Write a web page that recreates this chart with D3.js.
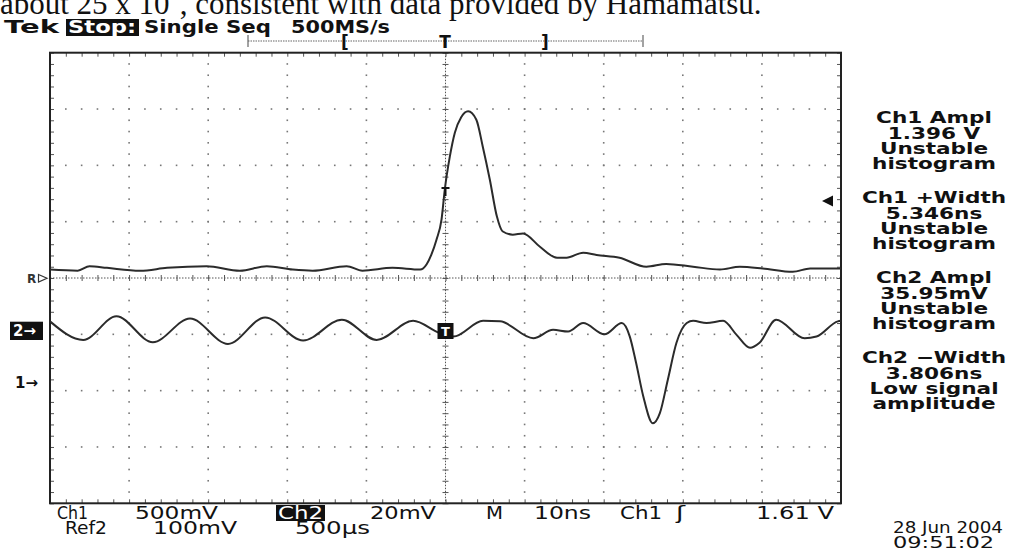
<!DOCTYPE html>
<html>
<head>
<meta charset="utf-8">
<script src="https://cdn.jsdelivr.net/npm/d3@7"></script>
<style>
body{margin:0;background:#fff;}
svg{display:block;}
</style>
</head>
<body>
<svg></svg>
<script>
// scope screen: time in ns (10ns/div), level in divisions from screen centre
var timeDivs = d3.range(-50, 51, 10);
var levelDivs = d3.range(-4, 5, 1);

// Ch1 - the big positive pulse
var ch1Time = [-50,-46.5,-45,-42.8,-38.6,-35.2,-30.2,-26,-22.6,-19.3,-16.8,-12.5,-10.5,-6.7,-3.2,-2.4,-1.8,-1.14,-0.5,-0.09,0.54,1.18,2.0,2.86,3.9,4.7,5.6,6.5,7.2,8.5,9.8,11.9,14.1,15.3,17.4,19.1,22.0,25.4,27.9,31.3,34.7,37.2,40.1,43.9,46.1,50];
var ch1Level = [0.15,0.13,0.21,0.18,0.13,0.18,0.21,0.13,0.21,0.15,0.13,0.21,0.13,0.18,0.15,0.24,0.41,0.68,1.04,1.57,2.15,2.58,2.86,2.96,2.81,2.34,1.75,1.09,0.83,0.77,0.79,0.56,0.36,0.36,0.45,0.41,0.36,0.20,0.25,0.20,0.15,0.20,0.17,0.11,0.17,0.17];

// Ch2 - the ringing trace with the negative dip
var ch2Time = [-50,-45.8,-41.6,-37,-32.3,-27.5,-22.8,-18,-13.1,-8.7,-4.1,-0.7,1.0,4.75,6.9,11.1,13.6,15.5,17.4,20.1,22.3,23.3,24.1,25.0,26.2,27.1,28.1,29.2,30.5,31.3,33.0,35.1,36.8,38.5,39.7,41.8,45.4,46.9,49.6,50];
var ch2Level = [-0.77,-1.10,-0.68,-1.14,-0.72,-1.17,-0.70,-1.11,-0.74,-1.10,-0.76,-0.98,-1.04,-0.76,-0.77,-1.07,-0.92,-0.95,-0.80,-1.00,-0.80,-1.04,-1.51,-2.10,-2.58,-2.40,-1.81,-1.15,-0.80,-0.76,-0.80,-0.76,-1.01,-1.24,-1.15,-0.74,-1.07,-1.04,-0.77,-0.76];

var measTitles = ["Ch1 Ampl","Ch1 +Width","Ch2 Ampl","Ch2 \u2212Width"];
var measValues = ["1.396 V","5.346ns","35.95mV","3.806ns"];
var measNotes = [["Unstable","histogram"],["Unstable","histogram"],["Unstable","histogram"],["Low signal","amplitude"]];

var readoutTop = ["Ch1","500mV","Ch2","20mV","M","10ns","Ch1","\u0283","1.61 V"];
var readoutBottom = ["Ref2","100mV","500\u00b5s"];
var dateLines = ["28 Jun 2004","09:51:02"];

var width = 1018, height = 552;
var x = d3.scaleLinear().domain([-50, 50]).range([50, 841]);
var y = d3.scaleLinear().domain([-4, 4]).range([503.3, 52.7]);

var svg = d3.select("svg").attr("width", width).attr("height", height);
var sans = "'DejaVu Sans', Verdana, sans-serif";
var narrow = "'Liberation Sans Narrow','DejaVu Sans Condensed','DejaVu Sans',sans-serif";

// minor steps
var minorT = d3.range(-25, 26).map(function(i){return i*2;});
var minorV = d3.range(-20, 21).map(function(i){return i/5;});

// dotted major grid lines (not centre, not border)
var grid = svg.append("g");
timeDivs.filter(function(t){return t != 0 && Math.abs(t) != 50;}).forEach(function(t){
  grid.append("g").selectAll("rect")
    .data(minorV.slice(1, -1))
    .enter().append("rect")
    .attr("x", x(t) - 0.8).attr("y", function(d){return y(d) - 0.8;})
    .attr("width", 1.6).attr("height", 1.6).attr("fill", "#777");
});
levelDivs.filter(function(v){return v != 0 && Math.abs(v) != 4;}).forEach(function(v){
  grid.append("g").selectAll("rect")
    .data(minorT.slice(1, -1))
    .enter().append("rect")
    .attr("x", function(d){return x(d) - 0.8;}).attr("y", y(v) - 0.8)
    .attr("width", 1.6).attr("height", 1.6).attr("fill", "#777");
});

// centre cross: dense dots + minor ticks
svg.append("line").attr("x1", x(-50)).attr("x2", x(50)).attr("y1", y(0)).attr("y2", y(0))
  .attr("stroke", "#555").attr("stroke-width", 1).attr("stroke-dasharray", "1.5,1.5");
svg.append("line").attr("x1", x(0)).attr("x2", x(0)).attr("y1", y(4)).attr("y2", y(-4))
  .attr("stroke", "#555").attr("stroke-width", 1).attr("stroke-dasharray", "1.5,1.5");

var tickAxis = function(axis, tx, ty){
  var g = svg.append("g").attr("transform", "translate(" + tx + "," + ty + ")").call(axis);
  g.select(".domain").remove();
  g.selectAll("text").remove();
  g.selectAll("line").attr("stroke", "#555").attr("stroke-width", 1);
  return g;
};
tickAxis(d3.axisBottom(x).tickValues(minorT).tickSize(6), 0, y(0) - 3);
tickAxis(d3.axisRight(y).tickValues(minorV).tickSize(6), x(0) - 3, 0);

// border ticks pointing inwards
tickAxis(d3.axisBottom(x).tickValues(minorT).tickSize(4), 0, y(4));
tickAxis(d3.axisTop(x).tickValues(minorT).tickSize(4), 0, y(-4));
tickAxis(d3.axisRight(y).tickValues(minorV).tickSize(4), x(-50), 0);
tickAxis(d3.axisLeft(y).tickValues(minorV).tickSize(4), x(50), 0);

svg.append("rect").attr("x", x(-50)).attr("y", y(4))
  .attr("width", x(50) - x(-50)).attr("height", y(-4) - y(4))
  .attr("fill", "none").attr("stroke", "#222").attr("stroke-width", 2);

// traces
var line = d3.line()
  .x(function(d){return x(d[0]);})
  .y(function(d){return y(d[1]);})
  .curve(d3.curveMonotoneX);
svg.append("path").datum(d3.zip(ch1Time, ch1Level)).attr("d", line)
  .attr("fill", "none").attr("stroke", "#2b2b2b").attr("stroke-width", 2);
svg.append("path").datum(d3.zip(ch2Time, ch2Level)).attr("d", line)
  .attr("fill", "none").attr("stroke", "#2b2b2b").attr("stroke-width", 2);

// trigger marks on the traces
svg.append("path").attr("d", "M" + (x(0) - 4) + "," + 188 + "h8M" + x(0) + ",188v8")
  .attr("stroke", "#111").attr("stroke-width", 2).attr("fill", "none");
svg.append("rect").attr("x", x(0) - 8).attr("y", 323).attr("width", 16).attr("height", 16).attr("fill", "#111");
svg.append("text").attr("x", x(0)).attr("y", 336).attr("text-anchor", "middle")
  .attr("font-family", sans).attr("font-weight", "bold").attr("font-size", 13).attr("fill", "#fff").text("T");
// trigger level arrow at the right edge
svg.append("path").attr("d", "M822,201L833,195.5L833,206.5Z").attr("fill", "#111");

// channel markers on the left
svg.append("text").attr("x", 27).attr("y", 283).attr("font-family", sans).attr("font-weight", "bold")
  .attr("font-size", 12).attr("fill", "#333").text("R");
svg.append("path").attr("d", "M38.5,274.5L47,278.3L38.5,282Z").attr("fill", "#fff").attr("stroke", "#333").attr("stroke-width", 1.2);
svg.append("rect").attr("x", 10).attr("y", 321.7).attr("width", 33).attr("height", 18.3).attr("fill", "#111");
svg.append("text").attr("x", 13).attr("y", 336).attr("font-family", sans).attr("font-weight", "bold")
  .attr("font-size", 15).attr("fill", "#fff").text("2\u2192");
svg.append("text").attr("x", 15).attr("y", 388).attr("font-family", sans).attr("font-weight", "bold")
  .attr("font-size", 15).attr("fill", "#111").text("1\u2192");

// record-length bar above the screen
var barY = 41;
svg.append("line").attr("x1", 248).attr("x2", 643).attr("y1", barY).attr("y2", barY)
  .attr("stroke", "#666").attr("stroke-width", 1.2).attr("stroke-dasharray", "1.5,1");
svg.append("path").attr("d", "M248,35v12M643,35v12").attr("stroke", "#666").attr("stroke-width", 1.2);
[["[", 345], ["T", 445], ["]", 545]].forEach(function(p){
  svg.append("text").attr("x", p[1]).attr("y", 48).attr("text-anchor", "middle")
    .attr("font-family", sans).attr("font-weight", "bold").attr("font-size", 17).attr("fill", "#111").text(p[0]);
});

// caption line cut off at the top
var cap = svg.append("text").attr("x", 0).attr("y", 14)
  .attr("font-family", "'Liberation Serif','Times New Roman',serif").attr("font-size", 31).attr("fill", "#111");
cap.append("tspan").text("about 25 x 10");
cap.append("tspan").attr("font-size", 20).attr("dy", -14).text("7");
cap.append("tspan").attr("dy", 14).text(", consistent with data provided by Hamamatsu.");

// Tek header
var hdr = function(str, x0, len, fill){
  return svg.append("text").attr("x", x0).attr("y", 33).attr("font-family", sans).attr("font-weight", "bold")
    .attr("font-size", 17).attr("fill", fill || "#111")
    .attr("textLength", len).attr("lengthAdjust", "spacingAndGlyphs").text(str);
};
hdr("Tek", 4, 55);
svg.append("rect").attr("x", 66).attr("y", 19).attr("width", 73).attr("height", 17).attr("fill", "#111");
hdr("Stop:", 68, 68, "#fff");
hdr("Single Seq", 144, 127);
hdr("500MS/s", 291, 99);

// measurement readouts on the right
var measY = [123.3, 203.3, 283.3, 363.3];
measTitles.forEach(function(t, i){
  var rows = [t, measValues[i]].concat(measNotes[i]);
  rows.forEach(function(r, j){
    svg.append("text")
      .attr("transform", "translate(934," + (measY[i] + j * 15.2) + ") scale(1.35,1)")
      .attr("text-anchor", "middle").attr("font-family", sans).attr("font-weight", "bold")
      .attr("font-size", 16).attr("fill", "#111").text(r);
  });
});

// bottom readout
var topX = [[57, 31], [135, 83], [278, 45], [370, 66], [486, 17], [534, 57], [620, 42], [676, 9], [756, 78]];
readoutTop.forEach(function(s, i){
  if (s == "Ch2") {
    svg.append("rect").attr("x", 276).attr("y", 505).attr("width", 49).attr("height", 16).attr("fill", "#111");
  }
  svg.append("text").attr("x", topX[i][0]).attr("y", 519).attr("font-family", narrow)
    .attr("font-size", 17).attr("fill", s == "Ch2" ? "#fff" : "#111")
    .attr("textLength", topX[i][1]).attr("lengthAdjust", "spacingAndGlyphs").text(s);
});
var botX = [[65, 42], [153, 84], [295, 75]];
readoutBottom.forEach(function(s, i){
  svg.append("text").attr("x", botX[i][0]).attr("y", 534).attr("font-family", narrow)
    .attr("font-size", 17).attr("fill", "#111")
    .attr("textLength", botX[i][1]).attr("lengthAdjust", "spacingAndGlyphs").text(s);
});
dateLines.forEach(function(s, i){
  svg.append("text").attr("x", 893).attr("y", 533 + i * 15).attr("font-family", narrow)
    .attr("font-size", 15.5).attr("fill", "#111")
    .attr("textLength", i == 0 ? 110 : 101).attr("lengthAdjust", "spacingAndGlyphs").text(s);
});
</script>
</body>
</html>
